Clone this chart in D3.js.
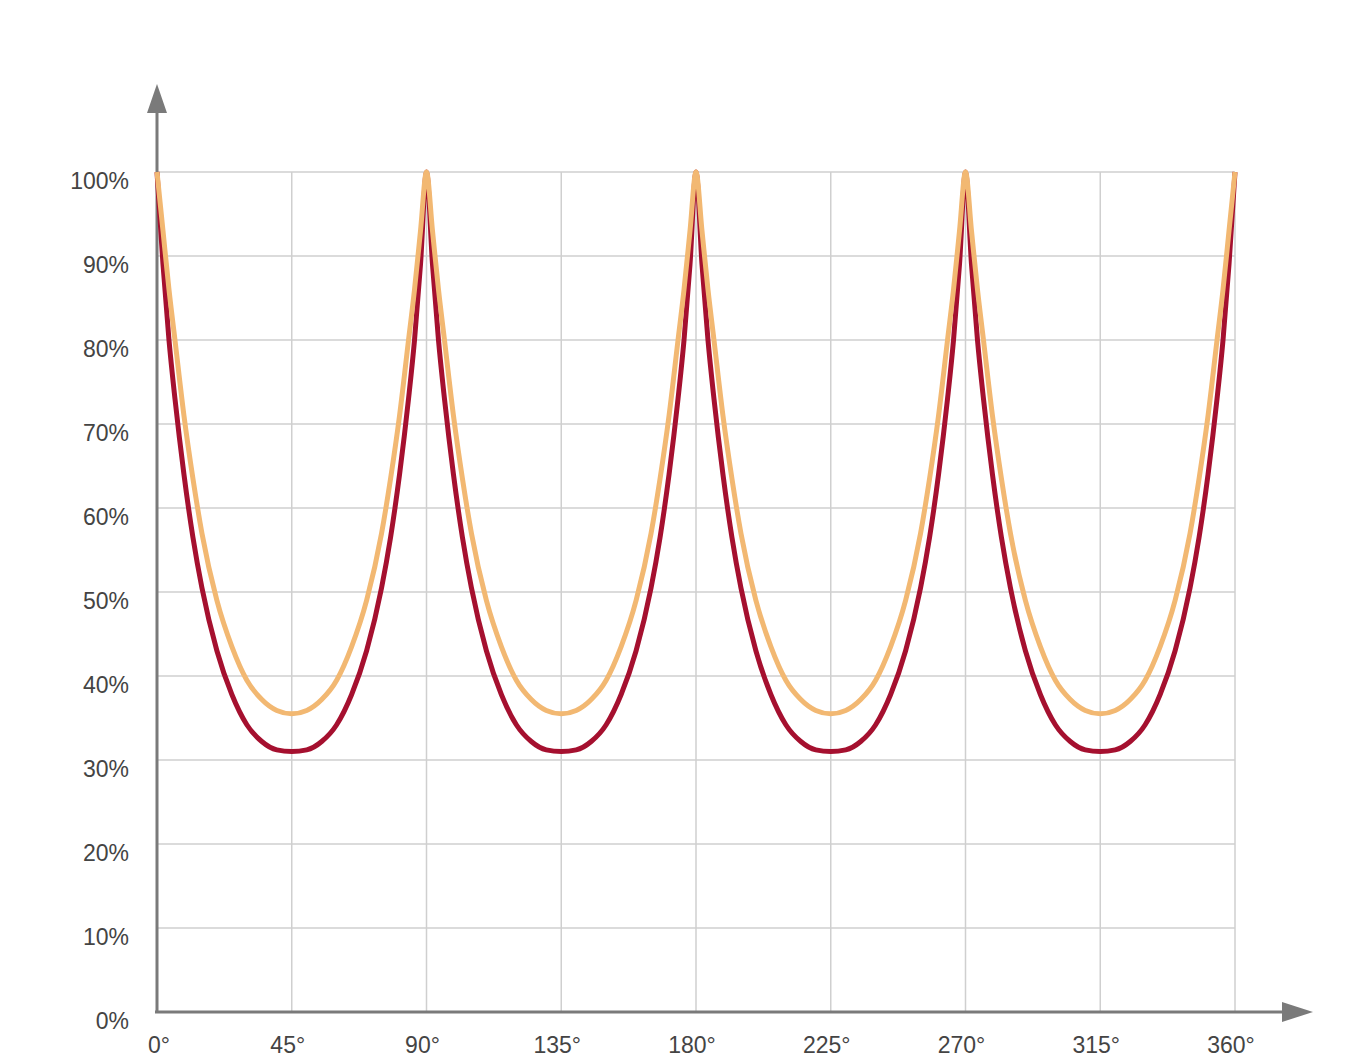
<!DOCTYPE html>
<meta charset="utf-8">
<html lang="en">
<head>
	<script src="https://d3js.org/d3.v7.min.js"></script>
	<style>body{margin:0;background:#fff;} text{font-family:"Liberation Sans",Arial,sans-serif;fill:#444;}</style>
</head>
<body>
<script>
var xTicks = [0, 45, 90, 135, 180, 225, 270, 315, 360];
var yTicks = [0, 10, 20, 30, 40, 50, 60, 70, 80, 90, 100];

// angle (deg) sampled along the curves
var angles = [0,2,4,6,9,12,15,20,25,30,35,40,45,50,55,60,65,70,75,78,81,84,86,88,
  90,92,94,96,99,102,105,110,115,120,125,130,135,140,145,150,155,160,165,168,171,174,176,178,
  180,182,184,186,189,192,195,200,205,210,215,220,225,230,235,240,245,250,255,258,261,264,266,268,
  270,272,274,276,279,282,285,290,295,300,305,310,315,320,325,330,335,340,345,348,351,354,356,358,360];

var red = [100,89,80,73,64,56.5,50.5,43,37.8,34.2,32.2,31.2,31,31.2,32.2,34.2,37.8,43,50.5,56.5,64,73,80,89,
  100,89,80,73,64,56.5,50.5,43,37.8,34.2,32.2,31.2,31,31.2,32.2,34.2,37.8,43,50.5,56.5,64,73,80,89,
  100,89,80,73,64,56.5,50.5,43,37.8,34.2,32.2,31.2,31,31.2,32.2,34.2,37.8,43,50.5,56.5,64,73,80,89,
  100,89,80,73,64,56.5,50.5,43,37.8,34.2,32.2,31.2,31,31.2,32.2,34.2,37.8,43,50.5,56.5,64,73,80,89,100];

var orange = [100,93,86,80,71,63.5,57,49,43.5,39.5,37.2,35.9,35.5,35.9,37.2,39.5,43.5,49,57,63.5,71,80,86,93,
  100,93,86,80,71,63.5,57,49,43.5,39.5,37.2,35.9,35.5,35.9,37.2,39.5,43.5,49,57,63.5,71,80,86,93,
  100,93,86,80,71,63.5,57,49,43.5,39.5,37.2,35.9,35.5,35.9,37.2,39.5,43.5,49,57,63.5,71,80,86,93,
  100,93,86,80,71,63.5,57,49,43.5,39.5,37.2,35.9,35.5,35.9,37.2,39.5,43.5,49,57,63.5,71,80,86,93,100];

var width = 1354, height = 1064;
var svg = d3.select("body").append("svg").attr("width", width).attr("height", height);

var x = d3.scaleLinear().domain([0, 360]).range([157, 1235]);
var y = d3.scaleLinear().domain([0, 100]).range([1012, 172]);

// grid
svg.append("g").selectAll("line").data(xTicks.slice(1)).enter().append("line")
  .attr("x1", d => x(d)).attr("x2", d => x(d)).attr("y1", y(0)).attr("y2", y(100))
  .attr("stroke", "#cfcfcf").attr("stroke-width", 1.5);
svg.append("g").selectAll("line").data(yTicks.slice(1)).enter().append("line")
  .attr("x1", x(0)).attr("x2", x(360)).attr("y1", d => y(d)).attr("y2", d => y(d))
  .attr("stroke", "#cfcfcf").attr("stroke-width", 1.5);

// labels
svg.append("g").selectAll("text").data(yTicks).enter().append("text")
  .attr("x", 129).attr("y", d => y(d) + 17).attr("text-anchor", "end")
  .attr("font-size", 23).text(d => d + "%");
svg.append("g").selectAll("text").data(xTicks).enter().append("text")
  .attr("x", d => x(d) + (d === 0 ? 2 : -4)).attr("y", 1053).attr("text-anchor", "middle")
  .attr("font-size", 23).text(d => d + "°");

// axes with arrows
svg.append("line").attr("x1", x(0)).attr("x2", x(0)).attr("y1", 1013).attr("y2", 110)
  .attr("stroke", "#7a7a7a").attr("stroke-width", 3);
svg.append("path").attr("d", "M147,113 L157,84 L167,113 Z").attr("fill", "#7a7a7a");
svg.append("line").attr("x1", 155).attr("x2", 1285).attr("y1", 1012).attr("y2", 1012)
  .attr("stroke", "#7a7a7a").attr("stroke-width", 3);
svg.append("path").attr("d", "M1282,1002 L1313,1012 L1282,1022 Z").attr("fill", "#7a7a7a");

var line = d3.line().x(d => x(d[0])).y(d => y(d[1])).curve(d3.curveMonotoneX);
svg.append("path").attr("d", line(angles.map((a, i) => [a, red[i]])))
  .attr("fill", "none").attr("stroke", "#a5102f").attr("stroke-width", 5);
svg.append("path").attr("d", line(angles.map((a, i) => [a, orange[i]])))
  .attr("fill", "none").attr("stroke", "#f2b872").attr("stroke-width", 5);
</script>
</body>
</html>
